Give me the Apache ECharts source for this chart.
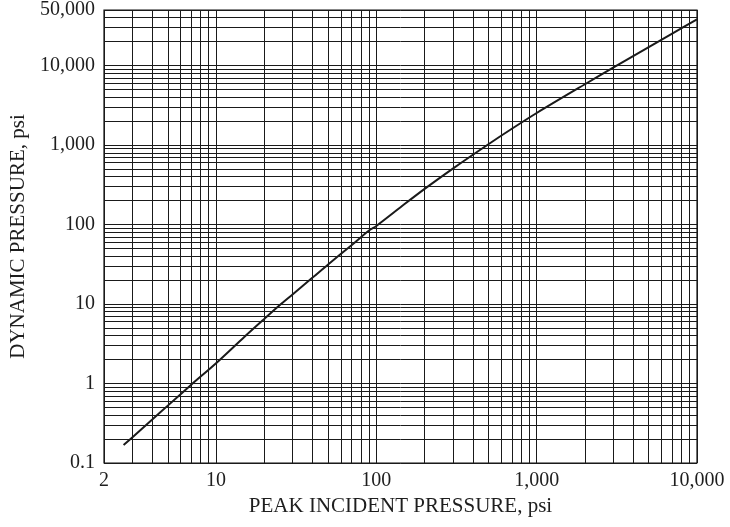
<!DOCTYPE html>
<html>
<head>
<meta charset="utf-8">
<script src="https://cdn.jsdelivr.net/npm/echarts@6/dist/echarts.min.js"></script>
<style>
  html, body { margin: 0; padding: 0; background: #fff; }
  #chart { width: 730px; height: 527px; }
</style>
</head>
<body>
<div id="chart"></div>
<script>
// Peak incident overpressure (psi) and the matching dynamic pressure (psi)
const peakIncident = [2.65, 3, 4, 5, 7, 10, 15, 20, 25, 30, 40, 50, 70, 90, 100, 150, 200, 300, 500, 700, 1000, 2000, 3000, 5000, 7000, 10000];
const dynamicPressure = [0.168, 0.21, 0.352, 0.527, 0.965, 1.8, 3.85, 6.5, 9.7, 13.2, 21.5, 31.5, 55, 84, 96, 181, 281, 506, 1024, 1602, 2530, 5820, 9390, 17070, 25270, 38170];

// Axis ranges
const xRange = [2, 10000];
const yRange = [0.1, 50000];
const xTitle = 'PEAK INCIDENT PRESSURE, psi';
const yTitle = 'DYNAMIC PRESSURE, psi';

const FONT = '"Liberation Serif", "DejaVu Serif", serif';
const GRID_COLOR = '#1a1a1a';
const TEXT_COLOR = '#1e1e1e';

// Intermediate grid values (2..9 times each power of ten) inside a range
function minorValues(lo, hi) {
  const out = [];
  for (let p = Math.floor(Math.log10(lo)); p <= Math.ceil(Math.log10(hi)); p++) {
    const base = Math.pow(10, p);
    for (let m = 2; m <= 9; m++) {
      const v = +(m * base).toPrecision(6);
      if (v > lo && v < hi) out.push(v);
    }
  }
  return out;
}

function fmt(v) {
  if (v < 1) return String(+v.toPrecision(3));
  return Math.round(v).toLocaleString('en-US');
}

const curve = peakIncident.map((x, i) => [x, dynamicPressure[i]]);

const gridMarks = []
  .concat(minorValues(xRange[0], xRange[1]).map(v => ({ xAxis: v })))
  .concat(minorValues(yRange[0], yRange[1]).map(v => ({ yAxis: v })));

const chart = echarts.init(document.getElementById('chart'), null, { renderer: 'canvas' });

chart.setOption({
  animation: false,
  backgroundColor: '#fff',
  grid: {
    left: 103, right: 33, top: 7, bottom: 64,
    show: true, borderColor: '#111', borderWidth: 1.2, backgroundColor: 'transparent'
  },
  xAxis: {
    type: 'log', logBase: 10, min: xRange[0], max: xRange[1],
    name: xTitle, nameLocation: 'middle', nameGap: 33,
    nameTextStyle: { fontFamily: FONT, fontSize: 21, color: TEXT_COLOR },
    axisLine: { show: false },
    axisTick: { show: false },
    axisLabel: { fontFamily: FONT, fontSize: 20, color: TEXT_COLOR, margin: 8, formatter: fmt },
    splitLine: { show: true, lineStyle: { color: GRID_COLOR, width: 1 } }
  },
  yAxis: {
    type: 'log', logBase: 10, min: yRange[0], max: yRange[1],
    name: yTitle, nameLocation: 'middle', nameGap: 75, nameRotate: 90,
    nameTextStyle: { fontFamily: FONT, fontSize: 21, color: TEXT_COLOR },
    axisLine: { show: false },
    axisTick: { show: false },
    axisLabel: { fontFamily: FONT, fontSize: 20, color: TEXT_COLOR, margin: 9, formatter: fmt },
    splitLine: { show: true, lineStyle: { color: GRID_COLOR, width: 1 } }
  },
  series: [
    {
      // carrier for the minor grid lines, drawn beneath the curve
      type: 'line', data: curve, z: 1, silent: true,
      symbol: 'none', lineStyle: { opacity: 0 },
      markLine: {
        silent: true, symbol: ['none', 'none'], animation: false,
        label: { show: false },
        emphasis: { disabled: true },
        lineStyle: { color: GRID_COLOR, width: 1, type: 'solid' },
        data: gridMarks
      }
    },
    {
      type: 'line', data: curve, z: 5, smooth: 0.3,
      symbol: 'none',
      lineStyle: { color: '#1a1a1a', width: 2 }
    }
  ]
});
</script>
</body>
</html>
